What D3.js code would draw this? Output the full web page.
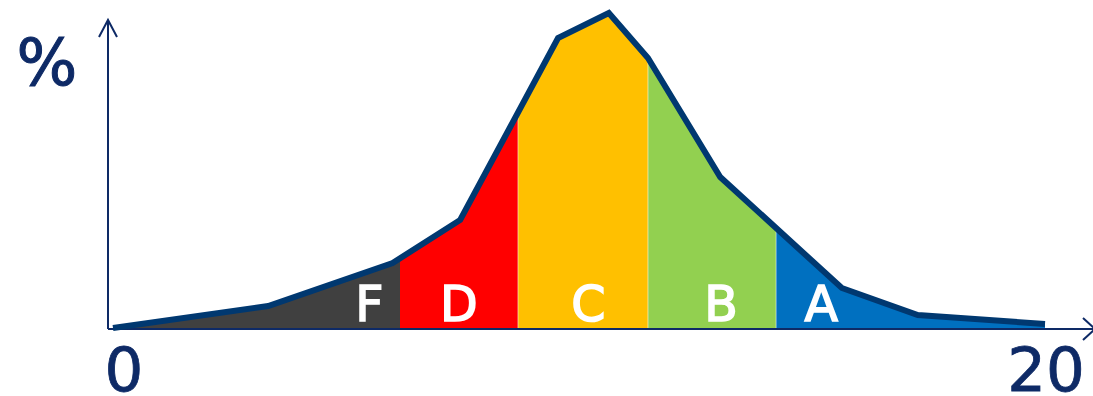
<!DOCTYPE html>
<html>
<head>
<meta charset="utf-8">
<script src="https://cdn.jsdelivr.net/npm/d3@7"></script>
<style>
  html, body { margin: 0; padding: 0; background: #fff; }
  svg { display: block; }
</style>
</head>
<body>
<div id="chart"></div>
<script>
// distribution curve (x in points 0..20, y in %)
const curveX = [0, 3.33, 6.0, 7.45, 9.55, 10.64, 11.48, 13.03, 15.64, 17.27, 20];
const curveY = [0.1, 2.3, 6.6, 10.9, 29.1, 31.6, 27.1, 15.2, 4.1, 1.4, 0.5];

// grade bands
const grades = ['F', 'D', 'C', 'B', 'A'];
const gradeFrom = [0, 6.16, 8.69, 11.48, 14.23];
const gradeTo = [6.16, 8.69, 11.48, 14.23, 20];
const gradeLabelAt = [5.5, 7.42, 10.2, 13.05, 15.2];
const gradeColors = ['#404040', '#ff0000', '#ffc000', '#92d050', '#0070c0'];

const xTicks = ['0', '20'];
const xTickValues = [0, 20];

const width = 1093, height = 396;
const axisX = 108, axisY = 329, axisTop = 20;
const navy = '#0e2a66';

const svg = d3.select('#chart').append('svg')
    .attr('width', width)
    .attr('height', height);

const x = d3.scaleLinear().domain([0, 20]).range([113, 1045]);
const y = d3.scaleLinear().domain([0, 32]).range([axisY, 9]);

const pts = curveX.map((v, i) => [v, curveY[i]]);

const defs = svg.append('defs');
const area = d3.area()
    .x(d => x(d[0]))
    .y0(y(0))
    .y1(d => y(d[1]));

defs.append('clipPath').attr('id', 'clip-all')
    .append('path').attr('d', area(pts));

grades.forEach((g, i) => {
    defs.append('clipPath')
        .attr('id', 'clip-' + g)
        .append('rect')
        .attr('x', x(gradeFrom[i]))
        .attr('y', 0)
        .attr('width', x(gradeTo[i]) - x(gradeFrom[i]))
        .attr('height', height);

    svg.append('path')
        .attr('d', area(pts))
        .attr('fill', gradeColors[i])
        .attr('clip-path', `url(#clip-${g})`);
});

// faint seams between the bands
gradeFrom.slice(2).forEach(v => {
    svg.append('line')
        .attr('x1', x(v)).attr('x2', x(v))
        .attr('y1', y(0)).attr('y2', 0)
        .attr('stroke', '#fff')
        .attr('stroke-opacity', 0.55)
        .attr('stroke-width', 1)
        .attr('clip-path', 'url(#clip-all)');
});

// axes with open arrowheads
svg.append('line')
    .attr('x1', axisX).attr('y1', axisY)
    .attr('x2', axisX).attr('y2', axisTop)
    .attr('stroke', navy).attr('stroke-width', 2);
svg.append('path')
    .attr('d', `M${axisX - 9},${axisTop + 17} L${axisX},${axisTop} L${axisX + 9},${axisTop + 17}`)
    .attr('fill', 'none').attr('stroke', navy).attr('stroke-width', 2);

svg.append('line')
    .attr('x1', axisX).attr('y1', axisY)
    .attr('x2', width + 2).attr('y2', axisY)
    .attr('stroke', navy).attr('stroke-width', 2);
svg.append('path')
    .attr('d', `M${width - 10},${axisY - 11} L${width + 2},${axisY} L${width - 10},${axisY + 11}`)
    .attr('fill', 'none').attr('stroke', navy).attr('stroke-width', 2);

// the curve itself
svg.append('path')
    .attr('d', d3.line().x(d => x(d[0])).y(d => y(d[1]))(pts))
    .attr('fill', 'none')
    .attr('stroke', '#003870')
    .attr('stroke-width', 6)
    .attr('stroke-linejoin', 'miter');

// grade letters
grades.forEach((g, i) => {
    svg.append('text')
        .attr('x', x(gradeLabelAt[i]))
        .attr('y', 321)
        .attr('text-anchor', 'middle')
        .attr('fill', '#fff')
        .attr('stroke', '#fff')
        .attr('stroke-width', 1.6)
        .attr('font-family', 'DejaVu Sans, sans-serif')
        .attr('font-size', '49px')
        .text(g);
});

// x labels
xTickValues.forEach((v, i) => {
    svg.append('text')
        .attr('x', x(v) + (i === 0 ? 11 : 1))
        .attr('y', 391)
        .attr('text-anchor', 'middle')
        .attr('fill', navy)
        .attr('stroke', navy)
        .attr('stroke-width', 0.8)
        .attr('font-family', 'DejaVu Sans, sans-serif')
        .attr('font-size', '61px')
        .text(xTicks[i]);
});

// y label
svg.append('text')
    .attr('x', 47)
    .attr('y', 85)
    .attr('text-anchor', 'middle')
    .attr('fill', navy)
    .attr('stroke', navy)
    .attr('stroke-width', 1)
    .attr('font-family', 'DejaVu Sans, sans-serif')
    .attr('font-size', '64px')
    .text('%');
</script>
</body>
</html>
